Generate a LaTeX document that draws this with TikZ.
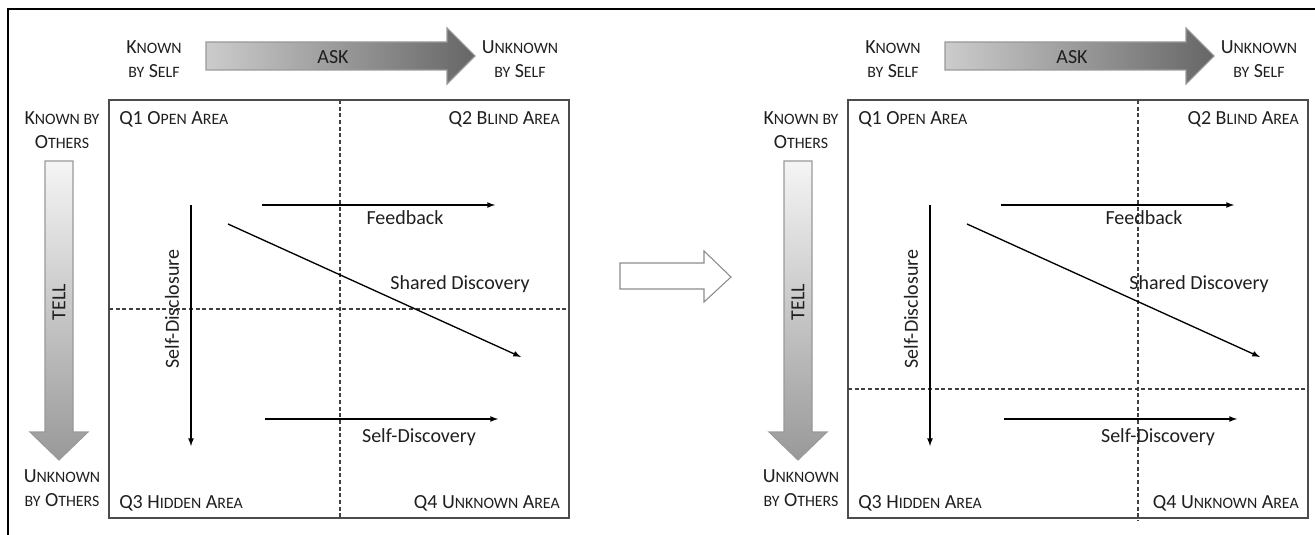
\documentclass[tikz,border=0pt]{standalone}
\usepackage{fontspec}
\setmainfont{Carlito}
\usetikzlibrary{arrows}
\newcommand\sm[1]{{\fontsize{11.9pt}{14pt}\selectfont #1}}

\begin{document}
\begin{tikzpicture}
  [x=0.75pt,y=-0.75pt,
   every node/.style={inner sep=0pt,text=black!88,align=center,font=\fontsize{15pt}{18pt}\selectfont},
   quad/.style={draw=black!70,line width=1pt},
   grid/.style={draw=black!75,line width=0.8pt,dash pattern=on 3pt off 2pt},
   move/.style={->,>=latex,line width=1pt},
   fat/.style={draw=black!40,line width=0.8pt}]
  \useasboundingbox (0,0) rectangle (1315,535);
  % frame
  \draw[line width=1.6pt] (8,535) -- (8,9) -- (1315,9);

  % hollow arrow between the panels
  \draw[draw=black!45,fill=white,line width=0.8pt] (620,263) -- (704,263) -- (704,251) -- (731,277)
    -- (704,302) -- (704,289) -- (620,289) -- cycle;

  \foreach \p/\dx/\hy/\vx/\vb in {1/0/309/340/518, 2/739/389/399/521}
  {
  \begin{scope}[shift={(\dx,0)}]
    % ask / tell arrows
    \shadedraw[fat,left color=black!20,right color=black!60] (206,42) -- (447,42) -- (447,28) -- (475,56)
      -- (447,84) -- (447,70) -- (206,70) -- cycle;
    \shadedraw[fat,top color=black!4,bottom color=black!40] (45,161) -- (73,161) -- (73,432) -- (88,432)
      -- (59,460) -- (30,432) -- (45,432) -- cycle;
    \node (ask\p) at (333,57) {ASK};
    \node[rotate=90] (tell\p) at (59,302) {TELL};

    \node (ks\p) at (154,59) {K\sm{NOWN}\\\sm{BY} S\sm{ELF}};
    \node (us\p) at (520,59) {U\sm{NKNOWN}\\\sm{BY} S\sm{ELF}};
    \node (ko\p) at (62,130) {K\sm{NOWN BY}\\O\sm{THERS}};
    \node (uo\p) at (62,488) {U\sm{NKNOWN}\\\sm{BY} O\sm{THERS}};

    % window
    \draw[quad] (109,100) rectangle (569,518);
    \draw[grid] (\vx,100) -- (\vx,\vb);
    \draw[grid] (109,\hy) -- (569,\hy);

    \node[anchor=base west] (q1\p) at (119,124) {Q1 O\sm{PEN} A\sm{REA}};
    \node[anchor=base east] (q2\p) at (560,124) {Q2 B\sm{LIND} A\sm{REA}};
    \node[anchor=base west] (q3\p) at (119,508) {Q3 H\sm{IDDEN} A\sm{REA}};
    \node[anchor=base east] (q4\p) at (560,508) {Q4 U\sm{NKNOWN} A\sm{REA}};

    % moves
    \coordinate (sda\p) at (191,205);
    \coordinate (sdb\p) at (191,446);
    \coordinate (fba\p) at (262,205);
    \coordinate (fbb\p) at (495,205);
    \coordinate (sha\p) at (228,224);
    \coordinate (shb\p) at (521,357);
    \coordinate (sfa\p) at (265,419);
    \coordinate (sfb\p) at (498,419);
    \foreach \from/\to in {sda/sdb, fba/fbb, sha/shb, sfa/sfb}
      \draw[move] (\from\p) -- (\to\p);

    \node[rotate=90] (sdl\p) at (172,309) {Self-Disclosure};
    \node (fbl\p) at (405,218) {Feedback};
    \node (shl\p) at (460,284) {Shared Discovery};
    \node (sfl\p) at (419,437) {Self-Discovery};
  \end{scope}
  }
\end{tikzpicture}
\end{document}
